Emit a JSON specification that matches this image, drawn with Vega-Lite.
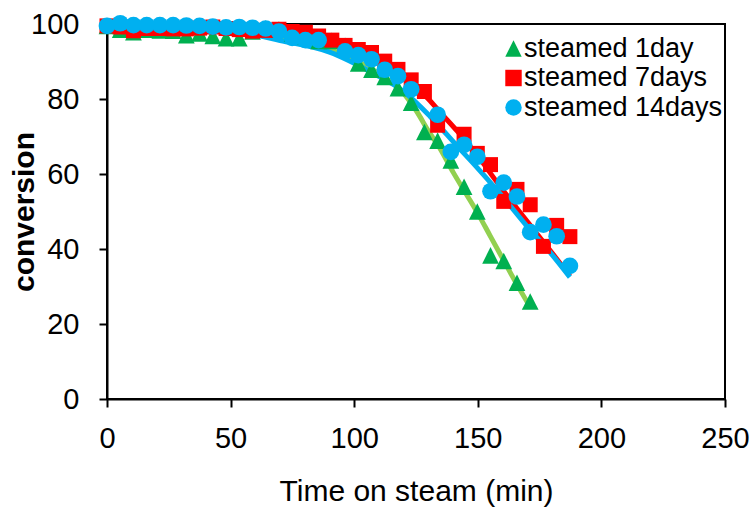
{
  "$schema": "https://vega.github.io/schema/vega-lite/v6.json",
  "width": 618,
  "height": 375,
  "autosize": {"type": "none"},
  "padding": {"left": 107, "top": 24, "right": 31, "bottom": 109},
  "config": {
    "font": "Liberation Sans",
    "view": {"stroke": "#000000", "strokeWidth": 2},
    "axis": {
      "grid": false,
      "domainColor": "#000000",
      "domainWidth": 2,
      "tickColor": "#000000",
      "tickWidth": 2,
      "tickSize": 8,
      "labelColor": "#000000",
      "titleColor": "#000000",
      "labelFont": "Liberation Sans",
      "titleFont": "Liberation Sans",
      "labelFontSize": 29,
      "titleFontSize": 30,
      "labelFlush": false,
      "labelOverlap": false,
      "labelBound": false
    },
    "legend": {
      "orient": "none",
      "legendX": 393,
      "legendY": 11,
      "padding": 0,
      "title": null,
      "labelFont": "Liberation Sans",
      "labelFontSize": 27,
      "labelColor": "#000000",
      "labelLimit": 400,
      "labelOffset": -3,
      "symbolSize": 270,
      "rowPadding": 1.5,
      "symbolStrokeWidth": 0
    }
  },
  "datasets": {
    "pts": [
      {"t": 0, "conv": 99.5, "series": "steamed 1day"},
      {"t": 5.35, "conv": 98.5, "series": "steamed 1day"},
      {"t": 10.7, "conv": 97.8, "series": "steamed 1day"},
      {"t": 16.05, "conv": 98.5, "series": "steamed 1day"},
      {"t": 21.4, "conv": 98.3, "series": "steamed 1day"},
      {"t": 26.75, "conv": 98.2, "series": "steamed 1day"},
      {"t": 32.1, "conv": 97, "series": "steamed 1day"},
      {"t": 37.45, "conv": 97.5, "series": "steamed 1day"},
      {"t": 42.8, "conv": 96.8, "series": "steamed 1day"},
      {"t": 48.15, "conv": 96.2, "series": "steamed 1day"},
      {"t": 53.5, "conv": 96.2, "series": "steamed 1day"},
      {"t": 58.85, "conv": 98, "series": "steamed 1day"},
      {"t": 64.2, "conv": 98.8, "series": "steamed 1day"},
      {"t": 69.55, "conv": 98.5, "series": "steamed 1day"},
      {"t": 74.9, "conv": 97.5, "series": "steamed 1day"},
      {"t": 80.25, "conv": 96.8, "series": "steamed 1day"},
      {"t": 85.6, "conv": 95.5, "series": "steamed 1day"},
      {"t": 90.95, "conv": 95.5, "series": "steamed 1day"},
      {"t": 96.3, "conv": 94.2, "series": "steamed 1day"},
      {"t": 101.65, "conv": 89.5, "series": "steamed 1day"},
      {"t": 107, "conv": 87.8, "series": "steamed 1day"},
      {"t": 112.35, "conv": 85.9, "series": "steamed 1day"},
      {"t": 117.7, "conv": 82.9, "series": "steamed 1day"},
      {"t": 123.05, "conv": 79, "series": "steamed 1day"},
      {"t": 128.4, "conv": 71.2, "series": "steamed 1day"},
      {"t": 133.75, "conv": 68.9, "series": "steamed 1day"},
      {"t": 139.1, "conv": 63.6, "series": "steamed 1day"},
      {"t": 144.45, "conv": 56.6, "series": "steamed 1day"},
      {"t": 149.8, "conv": 50, "series": "steamed 1day"},
      {"t": 155.15, "conv": 38.3, "series": "steamed 1day"},
      {"t": 160.5, "conv": 36.8, "series": "steamed 1day"},
      {"t": 165.85, "conv": 31, "series": "steamed 1day"},
      {"t": 171.2, "conv": 26, "series": "steamed 1day"},
      {"t": 0, "conv": 99.5, "series": "steamed 7days"},
      {"t": 5.35, "conv": 99.2, "series": "steamed 7days"},
      {"t": 10.7, "conv": 98.2, "series": "steamed 7days"},
      {"t": 16.05, "conv": 98.8, "series": "steamed 7days"},
      {"t": 21.4, "conv": 98.8, "series": "steamed 7days"},
      {"t": 26.75, "conv": 98.7, "series": "steamed 7days"},
      {"t": 32.1, "conv": 98.7, "series": "steamed 7days"},
      {"t": 37.45, "conv": 98.9, "series": "steamed 7days"},
      {"t": 42.8, "conv": 99.2, "series": "steamed 7days"},
      {"t": 48.15, "conv": 98.8, "series": "steamed 7days"},
      {"t": 53.5, "conv": 98.5, "series": "steamed 7days"},
      {"t": 58.85, "conv": 98.1, "series": "steamed 7days"},
      {"t": 64.2, "conv": 98.3, "series": "steamed 7days"},
      {"t": 69.55, "conv": 98.6, "series": "steamed 7days"},
      {"t": 74.9, "conv": 98, "series": "steamed 7days"},
      {"t": 80.25, "conv": 97.8, "series": "steamed 7days"},
      {"t": 85.6, "conv": 96.8, "series": "steamed 7days"},
      {"t": 90.95, "conv": 95.7, "series": "steamed 7days"},
      {"t": 96.3, "conv": 94.3, "series": "steamed 7days"},
      {"t": 101.65, "conv": 93.2, "series": "steamed 7days"},
      {"t": 107, "conv": 92.4, "series": "steamed 7days"},
      {"t": 112.35, "conv": 90.1, "series": "steamed 7days"},
      {"t": 117.7, "conv": 87.9, "series": "steamed 7days"},
      {"t": 123.05, "conv": 85.1, "series": "steamed 7days"},
      {"t": 128.4, "conv": 82, "series": "steamed 7days"},
      {"t": 133.75, "conv": 73, "series": "steamed 7days"},
      {"t": 144.45, "conv": 70.6, "series": "steamed 7days"},
      {"t": 149.8, "conv": 65.5, "series": "steamed 7days"},
      {"t": 155.15, "conv": 62.5, "series": "steamed 7days"},
      {"t": 160.5, "conv": 52.7, "series": "steamed 7days"},
      {"t": 165.85, "conv": 55.9, "series": "steamed 7days"},
      {"t": 171.2, "conv": 51.8, "series": "steamed 7days"},
      {"t": 176.55, "conv": 40.7, "series": "steamed 7days"},
      {"t": 181.9, "conv": 46.3, "series": "steamed 7days"},
      {"t": 187.25, "conv": 43.3, "series": "steamed 7days"},
      {"t": 0, "conv": 99.5, "series": "steamed 14days"},
      {"t": 5.35, "conv": 100.2, "series": "steamed 14days"},
      {"t": 10.7, "conv": 99.7, "series": "steamed 14days"},
      {"t": 16.05, "conv": 99.7, "series": "steamed 14days"},
      {"t": 21.4, "conv": 99.7, "series": "steamed 14days"},
      {"t": 26.75, "conv": 99.7, "series": "steamed 14days"},
      {"t": 32.1, "conv": 99.6, "series": "steamed 14days"},
      {"t": 37.45, "conv": 99.5, "series": "steamed 14days"},
      {"t": 42.8, "conv": 99.3, "series": "steamed 14days"},
      {"t": 48.15, "conv": 99.1, "series": "steamed 14days"},
      {"t": 53.5, "conv": 99.2, "series": "steamed 14days"},
      {"t": 58.85, "conv": 99, "series": "steamed 14days"},
      {"t": 64.2, "conv": 98.8, "series": "steamed 14days"},
      {"t": 69.55, "conv": 98, "series": "steamed 14days"},
      {"t": 74.9, "conv": 96.3, "series": "steamed 14days"},
      {"t": 80.25, "conv": 95.7, "series": "steamed 14days"},
      {"t": 85.6, "conv": 95.7, "series": "steamed 14days"},
      {"t": 96.3, "conv": 92.7, "series": "steamed 14days"},
      {"t": 101.65, "conv": 91.7, "series": "steamed 14days"},
      {"t": 107, "conv": 90.6, "series": "steamed 14days"},
      {"t": 112.35, "conv": 87.8, "series": "steamed 14days"},
      {"t": 117.7, "conv": 86.1, "series": "steamed 14days"},
      {"t": 123.05, "conv": 82.6, "series": "steamed 14days"},
      {"t": 133.75, "conv": 75.8, "series": "steamed 14days"},
      {"t": 139.1, "conv": 65.9, "series": "steamed 14days"},
      {"t": 144.45, "conv": 67.8, "series": "steamed 14days"},
      {"t": 149.8, "conv": 64.6, "series": "steamed 14days"},
      {"t": 155.15, "conv": 55.4, "series": "steamed 14days"},
      {"t": 160.5, "conv": 57.7, "series": "steamed 14days"},
      {"t": 165.85, "conv": 54, "series": "steamed 14days"},
      {"t": 171.2, "conv": 44.5, "series": "steamed 14days"},
      {"t": 176.55, "conv": 46.5, "series": "steamed 14days"},
      {"t": 181.9, "conv": 43.4, "series": "steamed 14days"},
      {"t": 187.25, "conv": 35.5, "series": "steamed 14days"}
    ],
    "fit": [
      {"t": 0, "conv": 99.5, "curve": "fit 1day"},
      {"t": 40, "conv": 98.8, "curve": "fit 1day"},
      {"t": 60, "conv": 97.5, "curve": "fit 1day"},
      {"t": 80, "conv": 95, "curve": "fit 1day"},
      {"t": 95, "conv": 92, "curve": "fit 1day"},
      {"t": 110, "conv": 86.8, "curve": "fit 1day"},
      {"t": 120, "conv": 81.5, "curve": "fit 1day"},
      {"t": 125, "conv": 77, "curve": "fit 1day"},
      {"t": 130, "conv": 71.5, "curve": "fit 1day"},
      {"t": 135, "conv": 66.5, "curve": "fit 1day"},
      {"t": 140, "conv": 60.5, "curve": "fit 1day"},
      {"t": 145, "conv": 55, "curve": "fit 1day"},
      {"t": 150, "conv": 49.5, "curve": "fit 1day"},
      {"t": 155, "conv": 43.5, "curve": "fit 1day"},
      {"t": 160, "conv": 37.5, "curve": "fit 1day"},
      {"t": 165, "conv": 31.5, "curve": "fit 1day"},
      {"t": 171.2, "conv": 24.5, "curve": "fit 1day"},
      {"t": 0, "conv": 99.8, "curve": "fit 7days"},
      {"t": 40, "conv": 99.3, "curve": "fit 7days"},
      {"t": 60, "conv": 98.3, "curve": "fit 7days"},
      {"t": 80, "conv": 96.2, "curve": "fit 7days"},
      {"t": 100, "conv": 92.5, "curve": "fit 7days"},
      {"t": 110, "conv": 89.8, "curve": "fit 7days"},
      {"t": 120, "conv": 86, "curve": "fit 7days"},
      {"t": 130, "conv": 80, "curve": "fit 7days"},
      {"t": 135, "conv": 76.3, "curve": "fit 7days"},
      {"t": 141.6, "conv": 71.5, "curve": "fit 7days"},
      {"t": 150, "conv": 64.8, "curve": "fit 7days"},
      {"t": 157, "conv": 58.5, "curve": "fit 7days"},
      {"t": 165, "conv": 51.5, "curve": "fit 7days"},
      {"t": 174, "conv": 44, "curve": "fit 7days"},
      {"t": 180, "conv": 39, "curve": "fit 7days"},
      {"t": 187.25, "conv": 32.8, "curve": "fit 7days"},
      {"t": 0, "conv": 100, "curve": "fit 14days"},
      {"t": 20, "conv": 99.7, "curve": "fit 14days"},
      {"t": 40, "conv": 98.8, "curve": "fit 14days"},
      {"t": 54, "conv": 97.8, "curve": "fit 14days"},
      {"t": 70, "conv": 95.6, "curve": "fit 14days"},
      {"t": 90, "conv": 92.5, "curve": "fit 14days"},
      {"t": 107.8, "conv": 86.8, "curve": "fit 14days"},
      {"t": 120, "conv": 82, "curve": "fit 14days"},
      {"t": 130.8, "conv": 75.3, "curve": "fit 14days"},
      {"t": 141.6, "conv": 67.5, "curve": "fit 14days"},
      {"t": 150, "conv": 61.5, "curve": "fit 14days"},
      {"t": 160, "conv": 54, "curve": "fit 14days"},
      {"t": 170, "conv": 46, "curve": "fit 14days"},
      {"t": 180, "conv": 38.5, "curve": "fit 14days"},
      {"t": 187.25, "conv": 32.5, "curve": "fit 14days"}
    ]
  },
  "encoding": {
    "x": {"field": "t", "type": "quantitative", "scale": {"domain": [0, 250], "nice": false},
          "axis": {"values": [0, 50, 100, 150, 200, 250], "title": "Time on steam (min)", "titleFontWeight": "normal", "labelPadding": 17, "titleY": 101, "titleBaseline": "alphabetic"}},
    "y": {"field": "conv", "type": "quantitative", "scale": {"domain": [0, 100], "nice": false},
          "axis": {"values": [0, 20, 40, 60, 80, 100], "title": "conversion", "titleFontWeight": "bold", "labelPadding": 20, "titleX": -74, "titleBaseline": "alphabetic"}}
  },
  "layer": [
    {
      "data": {"name": "fit"},
      "mark": {"type": "line", "strokeWidth": 5, "interpolate": "monotone"},
      "encoding": {
        "stroke": {"field": "curve", "type": "nominal",
                   "scale": {"domain": ["fit 1day", "fit 7days", "fit 14days"], "range": ["#92D050", "#FF0000", "#00B0F0"]},
                   "legend": null}
      }
    },
    {
      "data": {"name": "pts"},
      "transform": [{"filter": "datum.series === 'steamed 1day'"}],
      "mark": {"type": "point", "filled": true, "opacity": 1, "strokeWidth": 0, "size": 280},
      "encoding": {
        "color": {"field": "series", "type": "nominal",
                  "scale": {"domain": ["steamed 1day", "steamed 7days", "steamed 14days"], "range": ["#00B050", "#FF0000", "#00B0F0"]}},
        "shape": {"field": "series", "type": "nominal",
                  "scale": {"domain": ["steamed 1day", "steamed 7days", "steamed 14days"], "range": ["M0,-1L-1,1L1,1Z", "square", "circle"]}}
      }
    },
    {
      "data": {"name": "pts"},
      "transform": [{"filter": "datum.series === 'steamed 7days'"}],
      "mark": {"type": "point", "filled": true, "opacity": 1, "strokeWidth": 0, "size": 225},
      "encoding": {
        "color": {"field": "series", "type": "nominal"},
        "shape": {"field": "series", "type": "nominal"}
      }
    },
    {
      "data": {"name": "pts"},
      "transform": [{"filter": "datum.series === 'steamed 14days'"}],
      "mark": {"type": "point", "filled": true, "opacity": 1, "strokeWidth": 0, "size": 280},
      "encoding": {
        "color": {"field": "series", "type": "nominal"},
        "shape": {"field": "series", "type": "nominal"}
      }
    }
  ]
}
